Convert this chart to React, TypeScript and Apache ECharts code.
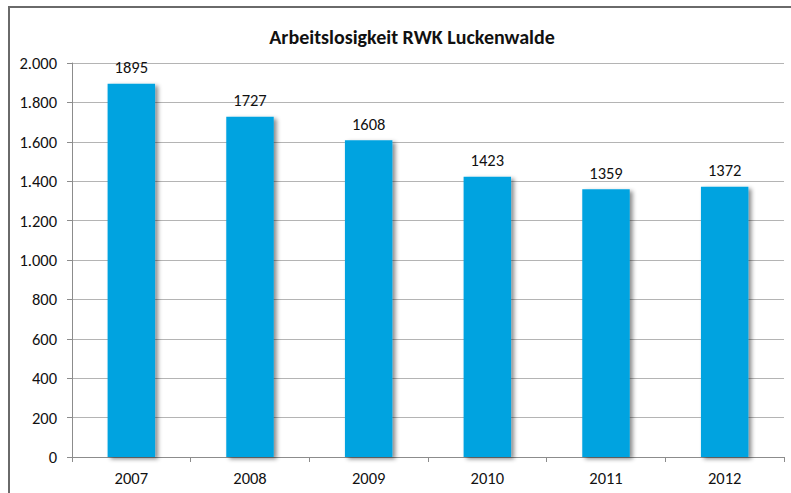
import React, { useEffect, useRef } from "react";
import * as echarts from "echarts";

const title = "Arbeitslosigkeit RWK Luckenwalde";
const years = ["2007", "2008", "2009", "2010", "2011", "2012"];
const values = [1895, 1727, 1608, 1423, 1359, 1372];
const yMin = 0;
const yMax = 2000;
const yInterval = 200;

const fontFamily = "Carlito, Lato, 'Open Sans', sans-serif";

function fmt(v: number): string {
  return String(v).replace(/\B(?=(\d{3})+(?!\d))/g, ".");
}

export default function App() {
  const ref = useRef<HTMLDivElement>(null);
  useEffect(() => {
    if (!ref.current) return;
    const chart = echarts.init(ref.current, null, { renderer: "svg" });
    chart.setOption({
      animation: false,
      backgroundColor: "#ffffff",
      title: {
        text: title,
        left: 407,
        top: 22,
        textAlign: "center",
        textStyle: { fontFamily, fontSize: 20, fontWeight: "bold", color: "#111" },
      },
      graphic: [
        {
          type: "rect",
          shape: { x: 9, y: 7, width: 800, height: 500 },
          style: { fill: "none", stroke: "#6a6a6a", lineWidth: 2 },
          silent: true,
        },
      ],
      grid: { left: 72, right: 7, top: 63, bottom: 36 },
      xAxis: {
        type: "category",
        data: years,
        axisLine: { lineStyle: { color: "#8c8c8c", width: 1 } },
        axisTick: { show: true, length: 5, lineStyle: { color: "#8c8c8c" } },
        axisLabel: { fontFamily, fontSize: 16.5, color: "#111", margin: 12 },
      },
      yAxis: {
        type: "value",
        min: yMin,
        max: yMax,
        interval: yInterval,
        axisLine: { show: true, lineStyle: { color: "#8c8c8c", width: 1 } },
        axisTick: { show: true, length: 5, lineStyle: { color: "#8c8c8c" } },
        axisLabel: {
          fontFamily,
          fontSize: 16.5,
          color: "#111",
          margin: 15,
          formatter: (v: number) => fmt(v),
        },
        splitLine: { show: true, lineStyle: { color: "#b4b4b4", width: 1 } },
      },
      series: [
        {
          type: "bar",
          data: values,
          barWidth: "40%",
          itemStyle: {
            color: "#00a3e0",
            shadowColor: "rgba(0,0,0,0.45)",
            shadowBlur: 4,
            shadowOffsetX: 3,
            shadowOffsetY: 2,
          },
          label: {
            show: true,
            position: "top",
            distance: 8,
            fontFamily,
            fontSize: 16.5,
            color: "#111",
          },
        },
      ],
    });
    return () => chart.dispose();
  }, []);
  return (
    <div
      ref={ref}
      style={{ position: "absolute", left: 0, top: 0, width: 791, height: 493 }}
    />
  );
}
